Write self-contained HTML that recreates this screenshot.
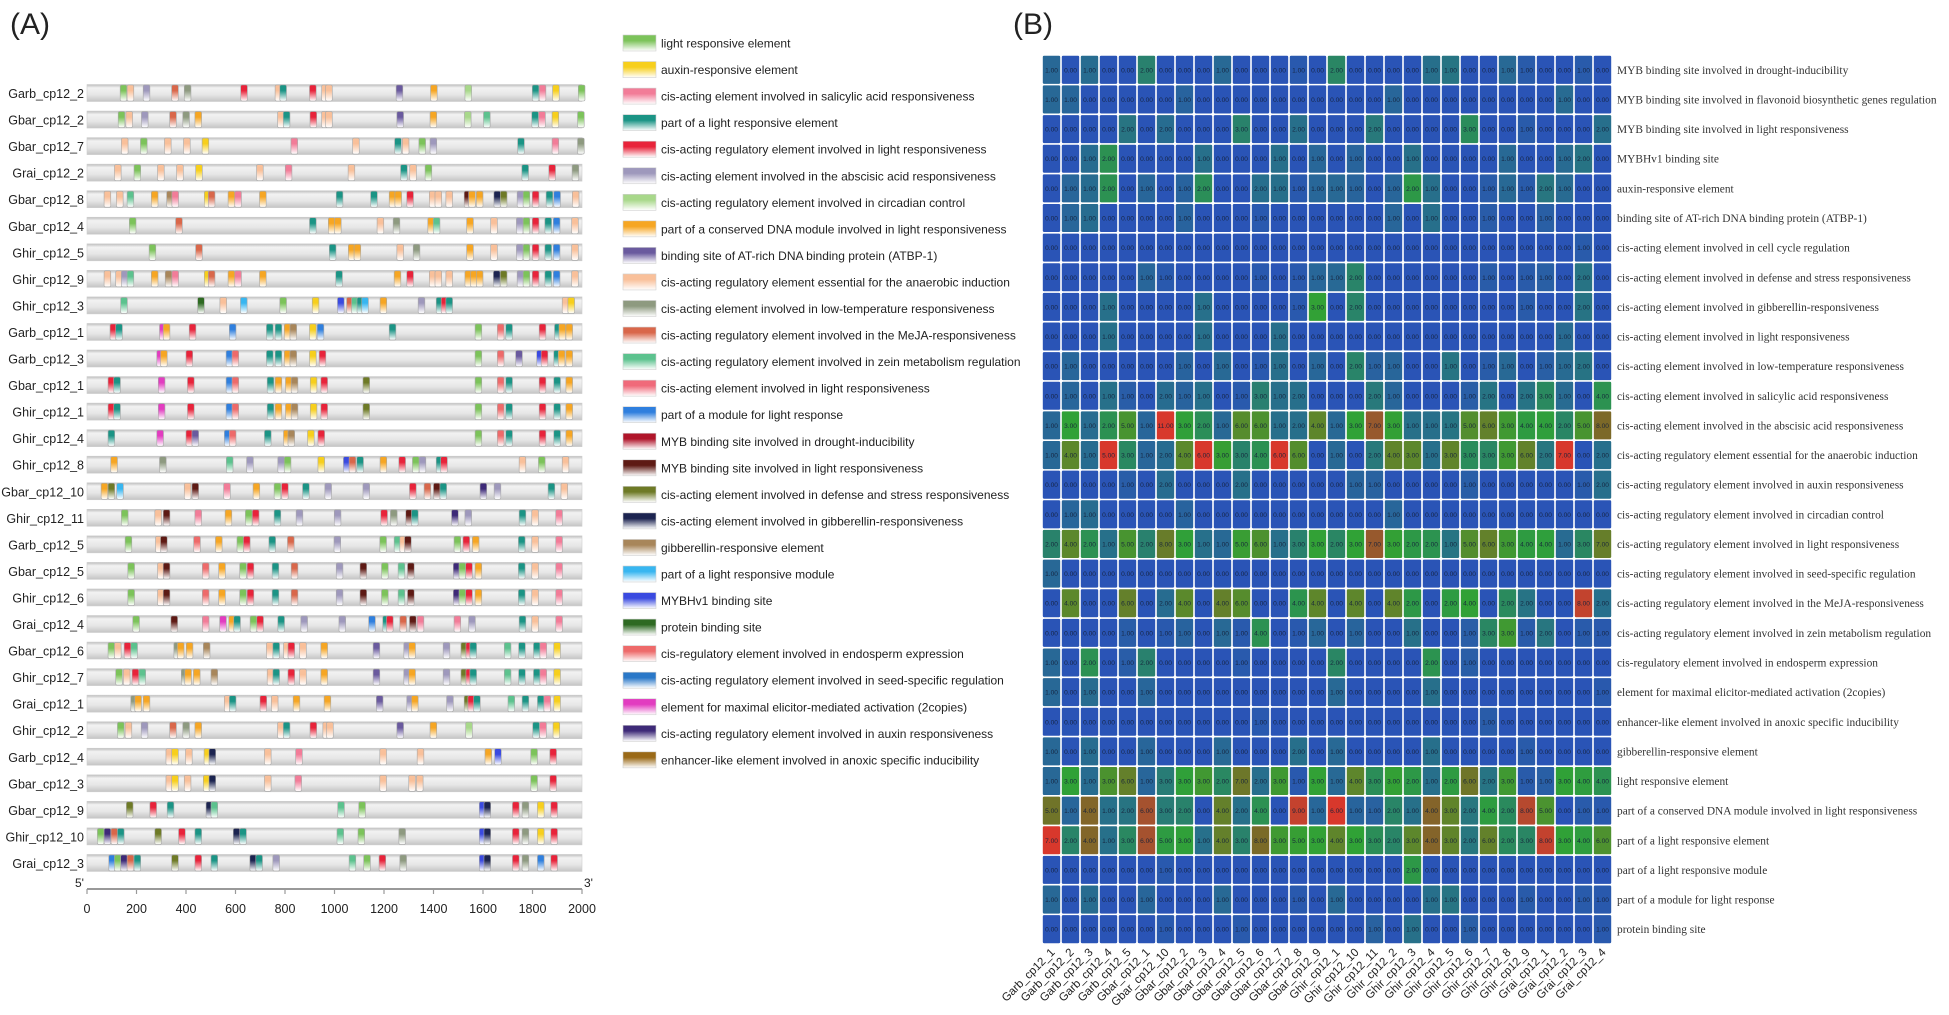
<!DOCTYPE html>
<html><head><meta charset="utf-8">
<style>
html,body{margin:0;padding:0;background:#fff;}
body{width:1949px;height:1015px;overflow:hidden;position:relative;}
svg{position:absolute;left:0;top:0;}
</style></head>
<body>
<svg id="fig" width="1949" height="1015" xmlns="http://www.w3.org/2000/svg">
<defs id="defs"></defs>
<text x="10" y="34" font-family="Liberation Sans, sans-serif" font-size="30" fill="#222">(A)</text>
<text x="1013" y="34" font-family="Liberation Sans, sans-serif" font-size="30" fill="#222">(B)</text>
<g id="panelA"></g>
<g id="legend"></g>
<g id="heat"></g>
</svg>
<script>
// ---------- Panel A data ----------
const motifNames = ["light responsive element","auxin-responsive element","cis-acting element involved in salicylic acid responsiveness","part of a light responsive element","cis-acting regulatory element involved in light responsiveness","cis-acting element involved in the abscisic acid responsiveness","cis-acting regulatory element involved in circadian control","part of a conserved DNA module involved in light responsiveness","binding site of AT-rich DNA binding protein (ATBP-1)","cis-acting regulatory element essential for the anaerobic induction","cis-acting element involved in low-temperature responsiveness","cis-acting regulatory element involved in the MeJA-responsiveness","cis-acting regulatory element involved in zein metabolism regulation","cis-acting element involved in light responsiveness","part of a module for light response","MYB binding site involved in drought-inducibility","MYB binding site involved in light responsiveness","cis-acting element involved in defense and stress responsiveness","cis-acting element involved in gibberellin-responsiveness","gibberellin-responsive element","part of a light responsive module","MYBHv1 binding site","protein binding site","cis-regulatory element involved in endosperm expression","cis-acting regulatory element involved in seed-specific regulation","element for maximal elicitor-mediated activation (2copies)","cis-acting regulatory element involved in auxin responsiveness","enhancer-like element involved in anoxic specific inducibility"];
const motifColors = ["#7cc35a","#f7cf1c","#f27c98","#1b9485","#e8233a","#9e98bc","#a8d88a","#f6a623","#6a5a9e","#f9c09a","#8e9a80","#d9674a","#5cc28e","#f06a7a","#2f7fde","#b0152a","#5e1a14","#6e7a26","#1c2450","#a8865a","#38b6f0","#3a4ae0","#2e6a22","#ee6a6a","#2a78c8","#e23cc0","#3e2a78","#9a6a18"];
const geneNames = ["Garb_cp12_2","Gbar_cp12_2","Gbar_cp12_7","Grai_cp12_2","Gbar_cp12_8","Gbar_cp12_4","Ghir_cp12_5","Ghir_cp12_9","Ghir_cp12_3","Garb_cp12_1","Garb_cp12_3","Gbar_cp12_1","Ghir_cp12_1","Ghir_cp12_4","Ghir_cp12_8","Gbar_cp12_10","Ghir_cp12_11","Garb_cp12_5","Gbar_cp12_5","Ghir_cp12_6","Grai_cp12_4","Gbar_cp12_6","Ghir_cp12_7","Grai_cp12_1","Ghir_cp12_2","Garb_cp12_4","Gbar_cp12_3","Gbar_cp12_9","Ghir_cp12_10","Grai_cp12_3"];
// motif start positions (bp) per gene
const motifPos = [
[134,162,227,342,393,621,760,779,899,948,964,1249,1388,1527,1799,1827,1881,1985],
[126,157,220,334,387,436,770,793,901,948,964,1252,1386,1525,1602,1797,1825,1879,1982],
[139,216,313,390,465,824,1073,1243,1274,1341,1386,1740,1879,1982],
[111,190,285,362,439,685,801,1055,1267,1304,1366,1757,1866,1960],
[69,119,162,260,322,343,474,490,570,597,697,1007,1146,1221,1244,1292,1383,1406,1450,1524,1542,1573,1644,1670,1738,1762,1799,1855,1886,1961],
[171,358,899,975,1000,1172,1237,1377,1399,1534,1631,1735,1762,1799,1850,1884,1958],
[251,439,979,1056,1079,1252,1318,1534,1631,1735,1762,1799,1850,1884,1958],
[69,116,139,162,260,316,343,474,490,570,597,697,1005,1241,1292,1383,1406,1450,1527,1550,1573,1642,1670,1738,1762,1799,1850,1884,1958],
[136,447,537,620,779,910,1012,1049,1069,1091,1110,1184,1338,1411,1431,1450,1920,1943],
[93,116,293,308,413,575,725,760,797,820,899,930,1221,1568,1658,1692,1827,1889,1907,1935],
[282,297,400,562,586,725,760,797,820,899,938,1568,1658,1732,1817,1835,1886,1904,1935],
[85,108,288,406,562,586,728,760,802,825,902,945,1115,1568,1658,1692,1827,1886,1935],
[85,108,288,406,562,586,728,760,802,825,902,945,1115,1568,1658,1692,1827,1886,1935],
[85,282,400,424,555,575,717,794,812,891,933,1568,1658,1692,1827,1886,1935],
[96,293,563,645,771,797,933,1036,1059,1090,1184,1260,1315,1342,1411,1429,1746,1824,1920],
[57,85,120,393,424,552,671,756,786,871,961,1115,1303,1362,1400,1426,1588,1645,1863,1915],
[139,274,308,436,558,640,668,756,845,999,1187,1226,1288,1311,1473,1527,1746,1797,1894],
[154,277,297,431,519,606,632,735,810,998,1183,1241,1264,1283,1483,1519,1557,1743,1797,1894],
[165,285,308,466,532,617,647,748,825,1007,1103,1190,1257,1295,1480,1503,1530,1568,1743,1797,1894],
[165,285,308,466,532,617,647,748,825,1007,1103,1190,1257,1295,1480,1503,1530,1568,1743,1797,1894],
[185,339,466,536,573,593,659,686,771,864,1018,1138,1195,1210,1264,1303,1334,1483,1542,1746,1797,1894],
[85,111,150,177,351,365,401,470,725,751,794,812,859,945,1156,1280,1300,1439,1511,1531,1547,1686,1744,1804,1830,1886],
[116,147,182,210,381,395,430,501,728,751,812,859,945,1156,1280,1300,1439,1511,1531,1547,1686,1744,1804,1830,1886],
[177,193,227,555,575,699,745,833,958,1169,1292,1311,1453,1524,1539,1562,1701,1758,1820,1846,1886],
[123,154,219,334,387,436,770,793,901,953,968,1252,1386,1530,1801,1829,1883],
[319,342,398,473,493,717,843,1183,1334,1608,1647,1793,1870],
[319,342,393,470,493,717,840,1183,1300,1331,1793,1870],
[159,254,324,481,501,1013,1098,1585,1604,1719,1758,1820,1874],
[42,69,97,123,274,370,436,591,617,1010,1095,1260,1585,1604,1719,1758,1820,1874],
[88,111,136,162,190,342,436,501,658,682,751,1059,1118,1180,1264,1585,1604,1719,1758,1820,1874]
];
// motif type (index into motifNames) per gene
const motifType = [
[0,9,5,11,10,4,9,3,4,9,9,8,7,6,3,2,1,0],
[0,9,5,11,10,7,9,3,4,9,9,8,7,6,12,3,2,1,0],
[9,0,9,9,1,2,9,3,9,0,5,3,2,10],
[9,0,9,9,1,9,2,9,3,9,0,3,4,10],
[9,9,12,7,19,2,1,11,7,2,7,3,3,7,7,4,9,9,9,16,7,7,18,17,5,0,4,3,14,9],
[0,11,3,7,7,9,10,7,12,7,9,5,0,4,3,14,9],
[0,11,3,7,7,9,10,7,9,5,0,4,3,14,9],
[9,9,5,12,7,19,2,1,11,7,2,7,3,7,4,9,9,9,7,7,7,18,17,5,0,4,3,14,9],
[12,22,9,20,0,1,21,11,12,3,20,7,5,3,4,3,9,1],
[4,3,25,7,4,14,3,3,7,19,1,14,3,0,23,3,4,3,7,7],
[25,7,4,14,23,3,3,7,19,1,4,0,23,8,21,4,3,7,7],
[4,3,25,4,14,23,3,7,7,19,1,4,17,0,23,3,4,3,7],
[4,3,25,4,14,23,3,7,7,19,1,4,17,0,23,3,4,3,7],
[3,25,4,8,14,23,3,7,19,1,4,0,23,3,4,3,7],
[7,10,12,5,5,0,1,21,11,3,7,4,0,5,3,4,9,0,9],
[7,17,20,9,16,2,7,0,4,3,5,5,4,11,16,3,26,5,3,9],
[0,9,16,2,7,0,4,3,5,5,4,10,16,3,26,5,3,9,2],
[0,9,16,23,7,0,4,3,11,5,0,12,9,16,0,4,7,3,9,2],
[0,9,16,23,7,0,4,3,11,5,16,0,12,16,26,0,4,7,3,9,2],
[0,9,16,23,7,0,4,3,11,5,16,0,12,16,26,0,4,7,3,9,2],
[0,16,2,25,7,3,0,4,3,5,5,14,3,4,11,16,2,2,5,3,9,2],
[0,9,4,12,10,7,7,19,9,3,9,4,9,7,8,5,7,5,17,4,3,12,3,3,2,1],
[0,9,4,12,10,7,7,19,9,3,4,9,7,8,5,7,5,17,4,3,12,3,3,2,1],
[10,7,7,9,3,4,9,7,7,8,5,7,5,17,4,3,12,3,3,2,1],
[0,9,5,11,10,7,9,3,4,9,9,8,7,6,3,2,1],
[9,1,9,1,18,9,2,9,9,7,21,0,4],
[9,1,9,1,18,9,2,9,9,9,0,4],
[17,4,3,18,12,12,0,21,18,4,10,1,4],
[0,26,11,3,17,4,3,18,3,12,0,10,21,18,4,10,1,4],
[14,0,26,11,3,17,4,3,18,3,5,12,0,4,10,21,18,4,10,14,4]
];
const axisTicks = [0,200,400,600,800,1000,1200,1400,1600,1800,2000];

// ---------- Panel B data ----------
const heatCols = ["Garb_cp12_1","Garb_cp12_2","Garb_cp12_3","Garb_cp12_4","Garb_cp12_5","Gbar_cp12_1","Gbar_cp12_10","Gbar_cp12_2","Gbar_cp12_3","Gbar_cp12_4","Gbar_cp12_5","Gbar_cp12_6","Gbar_cp12_7","Gbar_cp12_8","Gbar_cp12_9","Ghir_cp12_1","Ghir_cp12_10","Ghir_cp12_11","Ghir_cp12_2","Ghir_cp12_3","Ghir_cp12_4","Ghir_cp12_5","Ghir_cp12_6","Ghir_cp12_7","Ghir_cp12_8","Ghir_cp12_9","Grai_cp12_1","Grai_cp12_2","Grai_cp12_3","Grai_cp12_4"];
const heatRows = ["MYB binding site involved in drought-inducibility","MYB binding site involved in flavonoid biosynthetic genes regulation","MYB binding site involved in light responsiveness","MYBHv1 binding site","auxin-responsive element","binding site of AT-rich DNA binding protein (ATBP-1)","cis-acting element involved in cell cycle regulation","cis-acting element involved in defense and stress responsiveness","cis-acting element involved in gibberellin-responsiveness","cis-acting element involved in light responsiveness","cis-acting element involved in low-temperature responsiveness","cis-acting element involved in salicylic acid responsiveness","cis-acting element involved in the abscisic acid responsiveness","cis-acting regulatory element essential for the anaerobic induction","cis-acting regulatory element involved in auxin responsiveness","cis-acting regulatory element involved in circadian control","cis-acting regulatory element involved in light responsiveness","cis-acting regulatory element involved in seed-specific regulation","cis-acting regulatory element involved in the MeJA-responsiveness","cis-acting regulatory element involved in zein metabolism regulation","cis-regulatory element involved in endosperm expression","element for maximal elicitor-mediated activation (2copies)","enhancer-like element involved in anoxic specific inducibility","gibberellin-responsive element","light responsive element","part of a conserved DNA module involved in light responsiveness","part of a light responsive element","part of a light responsive module","part of a module for light response","protein binding site"];
const heatValues = [
[1,0,1,0,0,2,0,0,0,1,0,0,0,1,0,2,0,0,0,0,1,1,0,0,1,1,0,0,1,0],
[1,1,0,0,0,0,0,1,0,0,0,0,0,0,0,0,0,0,1,0,0,0,0,0,0,0,0,1,0,0],
[0,0,0,0,2,0,2,0,0,0,3,0,0,2,0,0,0,2,0,0,0,0,3,0,0,1,0,0,0,2],
[0,0,1,2,0,0,0,0,1,0,0,0,1,0,1,0,1,0,0,1,0,0,0,0,1,0,0,1,2,0],
[0,1,1,2,0,1,0,1,2,0,0,2,1,1,1,1,1,0,1,2,1,0,0,1,1,1,2,1,0,0],
[0,1,1,0,0,0,0,1,0,0,0,1,0,0,0,0,0,0,1,0,1,0,0,1,0,0,1,0,0,0],
[0,0,0,0,0,0,0,0,0,0,0,0,0,0,0,0,0,0,0,0,0,0,0,0,0,0,0,0,1,0],
[0,0,0,0,0,1,1,0,0,0,0,1,0,1,1,1,2,0,0,0,0,0,0,1,0,1,1,0,2,0],
[0,0,0,1,0,0,0,0,1,0,0,0,0,1,3,0,2,0,0,0,0,0,0,0,0,1,0,0,2,0],
[0,0,0,1,0,0,0,0,1,0,0,0,1,0,0,0,0,0,0,0,0,0,0,0,0,0,0,1,0,0],
[0,1,0,0,0,0,0,1,0,1,0,1,1,0,1,0,2,1,1,0,0,1,0,1,1,0,1,1,2,0],
[0,1,0,1,1,0,2,1,1,0,1,3,1,2,0,0,0,2,1,0,0,0,1,2,0,2,3,1,0,4],
[1,3,1,2,5,1,11,3,2,1,6,6,1,2,4,1,3,7,3,1,1,1,5,6,3,4,4,2,5,8],
[1,4,1,5,3,1,2,4,6,3,3,4,6,6,0,1,0,2,4,3,1,3,3,3,3,6,2,7,0,2],
[0,0,0,0,1,0,2,0,0,0,2,0,0,0,0,0,1,1,0,0,0,0,1,0,0,0,0,0,1,2],
[0,1,1,0,0,0,0,1,0,0,0,0,0,0,0,0,0,0,1,0,0,0,0,0,0,0,0,0,0,0],
[2,4,2,1,5,2,8,3,1,1,5,6,1,3,3,2,3,7,3,2,2,1,5,6,3,4,4,1,3,7],
[1,0,0,0,0,0,0,0,0,0,0,0,0,0,0,0,0,0,0,0,0,0,0,0,0,0,0,0,0,0],
[0,4,0,0,6,0,2,4,0,4,6,0,0,4,4,0,4,0,4,2,0,2,4,0,2,2,0,0,8,2],
[0,0,0,0,1,0,1,1,0,1,1,4,0,1,1,0,1,0,0,1,0,0,1,3,3,1,2,0,1,1],
[1,0,2,0,1,2,0,0,0,0,1,0,0,0,0,2,0,0,0,0,2,0,1,0,0,0,0,0,0,0],
[1,0,1,0,0,1,0,0,0,0,0,0,0,0,0,1,0,0,0,0,1,0,0,0,0,0,0,0,0,1],
[0,0,0,0,0,0,0,0,0,0,0,1,0,0,0,0,0,0,0,0,0,0,0,1,0,0,0,0,0,0],
[1,0,1,0,0,1,0,0,0,1,0,0,0,2,0,1,0,0,0,0,1,0,0,0,0,1,0,0,0,0],
[1,3,1,3,6,1,3,3,3,2,7,2,3,1,3,1,4,3,3,2,1,2,6,2,3,1,1,3,4,4],
[5,1,4,1,2,6,3,2,0,4,2,4,0,9,1,6,1,1,2,1,4,3,2,4,2,8,5,0,1,1],
[7,2,4,1,3,6,5,3,1,4,3,8,3,5,3,4,3,3,2,3,4,3,2,6,2,3,8,3,4,6],
[0,0,0,0,0,0,1,0,0,0,0,0,0,0,0,0,0,0,0,2,0,0,0,0,0,0,0,0,0,0],
[1,0,1,0,0,1,0,0,0,1,0,0,0,1,0,1,0,0,0,0,1,1,0,0,0,1,0,0,1,1],
[0,0,0,0,0,0,1,0,0,0,1,0,0,0,0,0,0,1,0,1,0,0,1,0,0,0,0,0,0,1]
];

const NS = "http://www.w3.org/2000/svg";
function mk(tag, attrs, parent){
  const e = document.createElementNS(NS, tag);
  for (const k in attrs) e.setAttribute(k, attrs[k]);
  parent.appendChild(e);
  return e;
}
const defs = document.getElementById('defs');
motifColors.forEach((c,i)=>{
  const g = mk('linearGradient',{id:'mg'+i,x1:0,y1:0,x2:0,y2:1},defs);
  mk('stop',{offset:'0',  'stop-color':c},g);
  mk('stop',{offset:'0.35','stop-color':c},g);
  mk('stop',{offset:'1',  'stop-color':'#ffffff'},g);
});
const bg = mk('linearGradient',{id:'barg',x1:0,y1:0,x2:0,y2:1},defs);
mk('stop',{offset:'0','stop-color':'#bdbdbd'},bg);
mk('stop',{offset:'0.2','stop-color':'#f2f2f2'},bg);
mk('stop',{offset:'0.6','stop-color':'#e6e6e6'},bg);
mk('stop',{offset:'1','stop-color':'#c4c4c4'},bg);

// ---------- Panel A ----------
const A = document.getElementById('panelA');
const ax0 = 87, ax1 = 582, maxBp = 2000;
const xA = bp => ax0 + (bp/maxBp)*(ax1-ax0);
const rowY0 = 93, rowStep = 26.55, barH = 17, motifW = 27;
geneNames.forEach((g,i)=>{
  const cy = rowY0 + i*rowStep;
  const lbl = mk('text',{x:84,y:cy+5,'text-anchor':'end','font-family':'Liberation Sans, sans-serif','font-size':12.5,fill:'#222'},A);
  lbl.textContent = g;
  
  
  const bar = mk('rect',{x:xA(0),y:cy-barH/2,width:xA(maxBp)-xA(0),height:barH,fill:'url(#barg)',stroke:'#cfcfcf','stroke-width':0.6},A);
  
  
  motifPos[i].forEach((p,j)=>{
    const t = motifType[i][j];
    const w = xA(p+motifW)-xA(p);
    const m = mk('rect',{x:xA(p),y:cy-barH/2+0.5,width:w,height:barH-1,rx:1.5,fill:'url(#mg'+t+')',stroke:'#a8a8a8','stroke-width':0.6},A);
    
    
  });
});
const axY = 889;
const axl = mk('line',{x1:xA(0),y1:axY,x2:xA(maxBp),y2:axY,stroke:'#999','stroke-width':2},A);


axisTicks.forEach(t=>{
  const tk = mk('line',{x1:xA(t),y1:axY,x2:xA(t),y2:axY+5,stroke:'#999','stroke-width':1.2},A);
  
  
  const tl = mk('text',{x:xA(t),y:913,'text-anchor':'middle','font-family':'Liberation Sans, sans-serif','font-size':12.5,fill:'#222'},A);
  tl.textContent = t;
  
  
});
const p5 = mk('text',{x:xA(0)-12,y:axY-2,'font-family':'Liberation Sans, sans-serif','font-size':12,fill:'#222'},A);
p5.textContent = "5'";


const p3 = mk('text',{x:xA(maxBp)+2,y:axY-2,'font-family':'Liberation Sans, sans-serif','font-size':12,fill:'#222'},A);
p3.textContent = "3'";



// ---------- Legend ----------
const L = document.getElementById('legend');
motifNames.forEach((n,i)=>{
  const cy = 43 + i*26.55;
  const sw = mk('rect',{x:623,y:cy-8,width:33,height:16,fill:'url(#mg'+i+')',stroke:'#d0d0d0','stroke-width':0.6},L);
  
  
  const tx = mk('text',{x:661,y:cy+4.5,'font-family':'Liberation Sans, sans-serif','font-size':12,fill:'#222'},L);
  tx.textContent = n;
  
  
});

// ---------- Heatmap ----------
const H = document.getElementById('heat');
const hx0 = 1042, hx1 = 1612, hy0 = 55, hy1 = 944;
const nC = heatCols.length, nR = heatRows.length;
const cw = (hx1-hx0)/nC, ch = (hy1-hy0)/nR;
const xB = c => hx0 + c*cw;
const yB = r => hy0 + r*ch;
const colStats = heatCols.map((_,c)=>{
  const vals = heatValues.map(r=>r[c]);
  const m = vals.reduce((a,b)=>a+b,0)/vals.length;
  const sd = Math.sqrt(vals.reduce((a,b)=>a+(b-m)*(b-m),0)/vals.length) || 1;
  return [m, sd];
});
const cStops = [[-0.3,[42,84,182]],[0.3,[39,112,138]],[1.0,[42,138,94]],[1.6,[48,162,54]],[2.3,[90,138,44]],[3.0,[122,106,40]],[3.4,[168,80,48]],[3.8,[216,56,44]]];
function zColor(z){
  if (z<=cStops[0][0]) return 'rgb('+cStops[0][1].join(',')+')';
  for (let i=1;i<cStops.length;i++){
    if (z<=cStops[i][0]){
      const a=cStops[i-1], b=cStops[i], t=(z-a[0])/(b[0]-a[0]);
      return 'rgb('+a[1].map((v,k)=>Math.round(v+(b[1][k]-v)*t)).join(',')+')';
    }
  }
  return 'rgb('+cStops[cStops.length-1][1].join(',')+')';
}
mk('rect',{x:hx0-1,y:hy0-1,width:hx1-hx0+2,height:hy1-hy0+2,fill:'#fff'},H);
heatValues.forEach((row,r)=>{
  row.forEach((v,c)=>{
    const z = (v-colStats[c][0])/colStats[c][1];
    const cell = mk('rect',{x:xB(c)+0.8,y:yB(r)+0.8,width:cw-1.6,height:ch-1.6,rx:1.2,fill:zColor(z)},H);
    
    
    const t = mk('text',{x:xB(c)+cw/2,y:yB(r)+ch/2+2.5,'text-anchor':'middle','font-family':'Liberation Sans, sans-serif','font-size':6.6,fill:'#14203a','fill-opacity':0.9},H);
    t.textContent = v.toFixed(2);
    
    
  });
});
heatRows.forEach((n,r)=>{
  const t = mk('text',{x:1617,y:yB(r)+ch/2+4,'font-family':'Liberation Serif, serif','font-size':11.4,fill:'#333'},H);
  t.textContent = n;
  
  
});
heatCols.forEach((n,c)=>{
  const x = xB(c)+cw/2+4, y = 953;
  const t = mk('text',{x:x,y:y,'text-anchor':'end','font-family':'Liberation Sans, sans-serif','font-size':11.5,fill:'#222',transform:'rotate(-45 '+x+' '+y+')'},H);
  t.textContent = n;
  
  
});
</script>
</body></html>
